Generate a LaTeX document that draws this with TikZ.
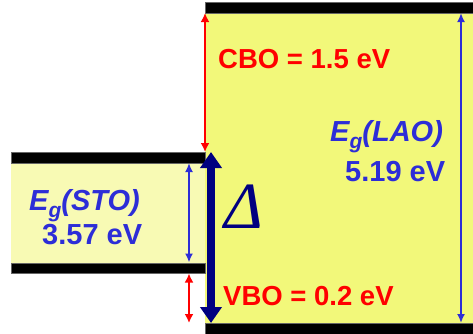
\documentclass[tikz,border=0pt]{standalone}
\usepackage{fontspec}
\setmainfont{Liberation Sans}
\newfontfamily\deltafont{Liberation Serif}
\usetikzlibrary{arrows.meta}
\definecolor{laoyellow}{RGB}{242,248,122}
\definecolor{stoyellow}{RGB}{248,250,180}
\definecolor{txtblue}{RGB}{45,45,215}
\definecolor{navy}{RGB}{0,0,128}
\newcommand{\subg}{{\fontsize{21}{21}\selectfont\raisebox{-6.5pt}{g}}}
\begin{document}
\begin{tikzpicture}[x=1pt,y=-1pt,
  bar/.style={fill=black,draw=black!60,line width=0.4pt},
  lbl/.style={font=\fontsize{27.5}{27.5}\selectfont\bfseries,inner sep=0pt},
  blbl/.style={font=\fontsize{29}{29}\selectfont\bfseries,inner sep=0pt,text=txtblue},
  redarr/.style={draw=red,line width=2pt,{Latex[length=9pt,width=9pt]}-{Latex[length=9pt,width=9pt]}},
  bluearr/.style={draw=txtblue,line width=1.8pt,{Latex[length=9pt,width=8pt]}-{Latex[length=9pt,width=8pt]}},
  navyarr/.style={draw=navy,line width=7.5pt,{Triangle[length=16pt,width=21pt]}-{Triangle[length=16pt,width=21pt]}}]
\useasboundingbox (0,0) rectangle (473,333);
% fills
\fill[laoyellow] (205,13) rectangle (473,323);
\fill[stoyellow] (11,163) rectangle (205,263);
% bars
\draw[bar] (205,2) rectangle (474,13);
\draw[bar] (205,323) rectangle (474,334);
\draw[bar] (11,152) rectangle (205,163);
\draw[bar] (11,263) rectangle (205,273);
% coordinates
\coordinate (cbotop) at (205,13);
\coordinate (cbobot) at (205,152);
\coordinate (stotop) at (189,163);
\coordinate (stobot) at (189,262.5);
\coordinate (vbotop) at (189,273.5);
\coordinate (vbobot) at (189,323);
\coordinate (laotop) at (461,13);
\coordinate (laobot) at (461,323);
\coordinate (dtop) at (211,152);
\coordinate (dbot) at (211,323);
% arrows
\draw[redarr] (cbotop) -- (cbobot);
\draw[redarr] (vbotop) -- (vbobot);
\draw[bluearr] (stotop) -- (stobot);
\draw[bluearr] (laotop) -- (laobot);
\draw[navyarr] (dtop) -- (dbot);
% labels
\node[lbl,text=red,anchor=base west] (cbo) at (218,68.3) {CBO = 1.5 eV};
\node[lbl,text=red,anchor=base west] (vbo) at (223,305.7) {VBO = 0.2 eV};
\node[blbl,anchor=base west] (eglao) at (330,141.7) {\itshape E\subg(LAO)};
\node[blbl,anchor=base west] (laoval) at (345,181.5) {5.19 eV};
\node[blbl,anchor=base west] (egsto) at (29,210.5) {\itshape E\subg(STO)};
\node[blbl,anchor=base west] (stoval) at (42,244) {3.57 eV};
\node[text=navy,inner sep=0pt,anchor=base west,font=\deltafont\itshape\fontsize{66}{66}\selectfont] (delta) at (224,228) {Δ};
\end{tikzpicture}
\end{document}
